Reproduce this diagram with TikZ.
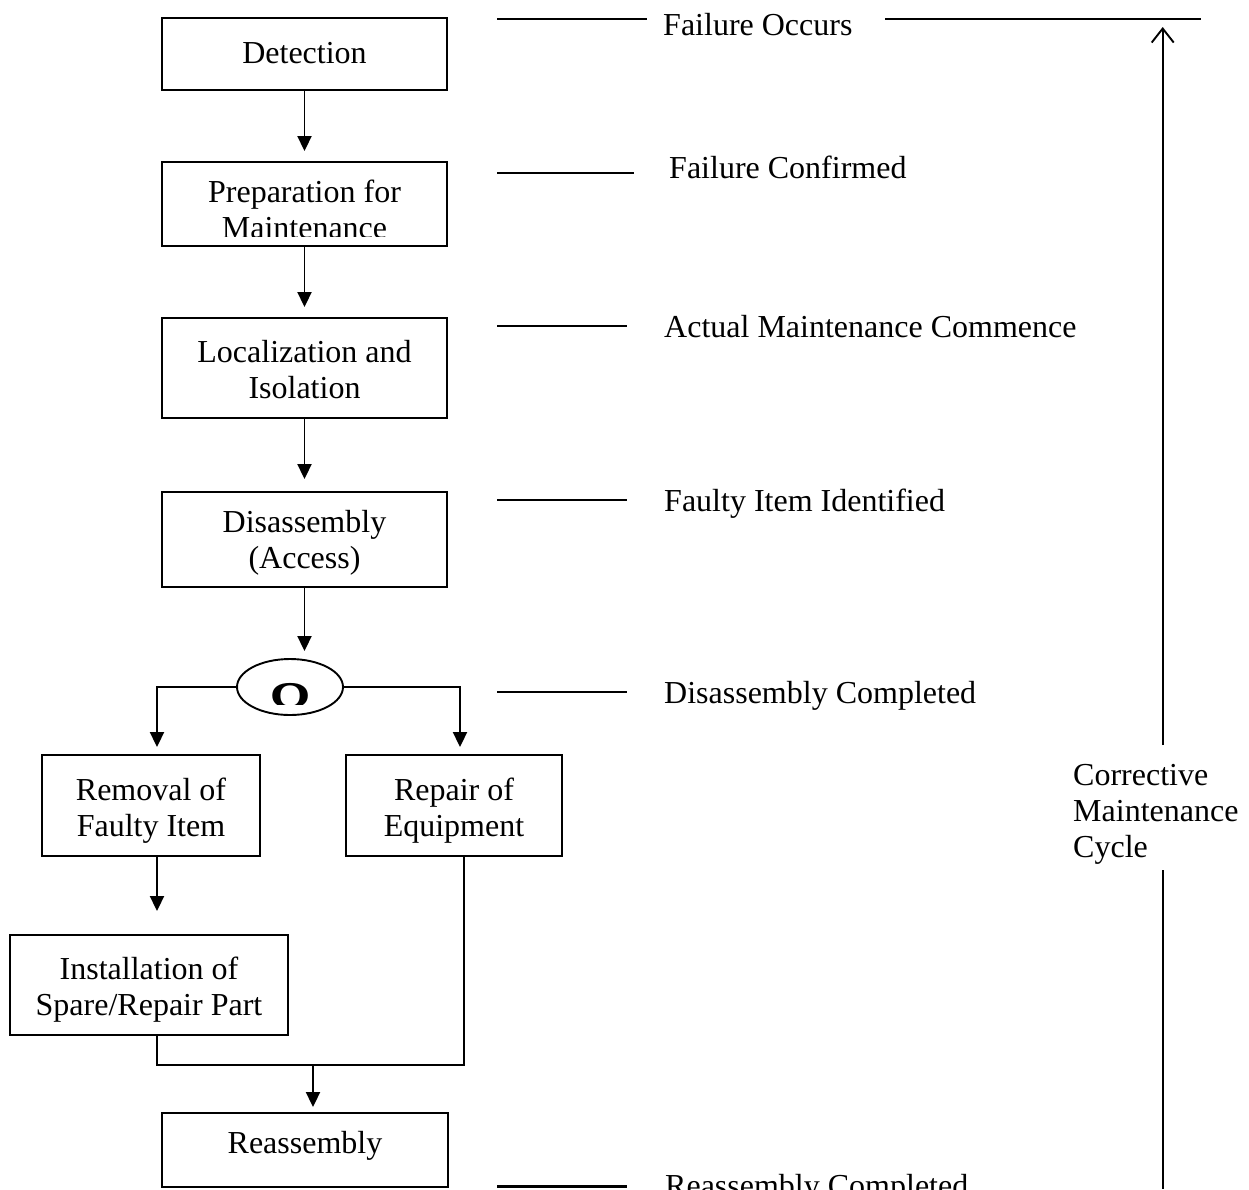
\documentclass[tikz,border=0pt]{standalone}
\usepackage{fontspec}
\setmainfont{Liberation Serif}
\usetikzlibrary{arrows.meta,shapes.geometric,calc}
\begin{document}
\begin{tikzpicture}[x=1pt,y=-1pt,
  every node/.style={font=\fontsize{32}{36}\selectfont},
  stagebox/.style={draw, line width=1.9pt, inner sep=0pt},
  caption/.style={anchor=base, align=center, inner sep=0pt},
  flow/.style={line width=1.9pt, -{Triangle[length=15pt,width=14pt]}},
  wire/.style={line width=1.9pt},
  tick/.style={line width=2.1pt},
  event/.style={anchor=base west, inner sep=0pt},
]
\useasboundingbox (0,0) rectangle (1249,1189);

% ---- process boxes ----
\node[stagebox, minimum width=285pt, minimum height=72pt]  (det)  at (304.5,54)   {};
\node[stagebox, minimum width=285pt, minimum height=84pt]  (prep) at (304.5,204)  {};
\node[stagebox, minimum width=285pt, minimum height=100pt] (loc)  at (304.5,368)  {};
\node[stagebox, minimum width=285pt, minimum height=95pt]  (dis)  at (304.5,539.5) {};
\node[stagebox, minimum width=218pt, minimum height=101pt] (rem)  at (151,805.5)  {};
\node[stagebox, minimum width=216pt, minimum height=101pt] (rep)  at (454,805.5)  {};
\node[stagebox, minimum width=278pt, minimum height=100pt] (inst) at (149,985)    {};
\node[stagebox, minimum width=286pt, minimum height=74pt]  (reas) at (305,1150)   {};

% ---- box captions (base = baseline of the last line) ----
\node[caption] (detT) at (304.5,63) {Detection};
\begin{scope}
  \clip (162,162) rectangle (447,236);
  \node[caption] (prepT) at (304.5,238.7) {Preparation for\\Maintenance};
\end{scope}
\node[caption] (locT)  at (304.5,398) {Localization and\\Isolation};
\node[caption] (disT)  at (304.5,568) {Disassembly\\(Access)};
\node[caption] (remT)  at (151,836)   {Removal of\\Faulty Item};
\node[caption] (repT)  at (454,836)   {Repair of\\Equipment};
\node[caption] (instT) at (149,1015)  {Installation of\\Spare/Repair Part};
\node[caption] (reasT) at (305,1153)  {Reassembly};

% ---- branching symbol ----
\node[draw, ellipse, line width=1.9pt, minimum width=106pt, minimum height=56pt, inner sep=0pt] (merge) at (290,687) {};
\begin{scope}
  \clip (250,670) rectangle (330,704);
  \node[anchor=base, inner sep=0pt, font=\bfseries\fontsize{50}{50}\selectfont] (omega) at (291,716) {Ω};
\end{scope}

% ---- main flow ----
\draw[flow, shorten >=10pt] (det.south)  -- (prep.north);
\draw[flow, shorten >=10pt] (prep.south) -- (loc.north);
\draw[flow, shorten >=12pt] (loc.south)  -- (dis.north);
\draw[flow, shorten >=7pt]  (dis.south)  -- (dis.south |- merge.north);
\draw[flow, shorten >=7pt]  (merge.west) -| ([xshift=6pt]rem.north);
\draw[flow, shorten >=7pt]  (merge.east) -| ([xshift=6pt]rep.north);
\draw[flow, shorten >=23pt] ([xshift=6pt]rem.south) -- ([xshift=6pt]rem.south |- inst.north);

\coordinate (joinR) at (464,1065);
\coordinate (joinM) at (313,1065);
\draw[wire] ([xshift=8pt]inst.south) |- (joinR) -- ([xshift=10pt]rep.south);
\draw[flow, shorten >=5pt] (joinM) -- (joinM |- reas.north);

% ---- milestones ----
\draw[tick] (497,19) -- (647,19);
\node[event] (ev1) at (663,35) {Failure Occurs};
\draw[tick] (885,19) -- (1201,19);
\draw[tick] (497,172.7) -- (634,172.7);
\node[event] (ev2) at (669,178) {Failure Confirmed};
\draw[tick] (497,326) -- (627,326);
\node[event] (ev3) at (664,337) {Actual Maintenance Commence};
\draw[tick] (497,500) -- (627,500);
\node[event] (ev4) at (664,511) {Faulty Item Identified};
\draw[tick] (497,692) -- (627,692);
\node[event] (ev5) at (664,703) {Disassembly Completed};
\draw[tick] (497,1186.5) -- (627,1186.5);
\node[event] (ev6) at (665,1196) {Reassembly Completed};

% ---- cycle span ----
\node[anchor=base west, align=left, inner sep=0pt] (cyc) at (1073,857) {Corrective\\Maintenance\\Cycle};
\coordinate (cycLow) at (1162.7,745);
\coordinate (cycTip) at (1162.7,27);
\coordinate (cycRest) at (1162.7,870);
\coordinate (cycEnd) at (1162.7,1189);
\draw[line width=1.9pt, -{Straight Barb[length=14pt,width=22pt]}] (cycLow) -- (cycTip);
\draw[line width=1.9pt] (cycRest) -- (cycEnd);
\end{tikzpicture}
\end{document}
